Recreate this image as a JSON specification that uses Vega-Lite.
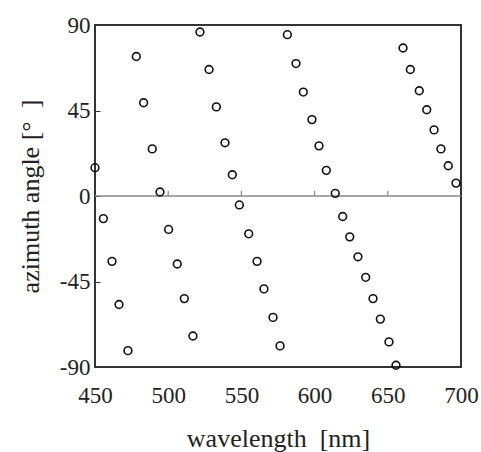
{
  "$schema": "https://vega.github.io/schema/vega-lite/v6.json",
  "width": 366,
  "height": 342,
  "autosize": {"type": "none"},
  "padding": {"left": 95, "top": 25, "right": 20, "bottom": 85},
  "background": "white",
  "config": {
    "view": {"stroke": "#333333", "strokeWidth": 2},
    "font": "Liberation Serif",
    "axis": {"labelFont": "Liberation Serif", "titleFont": "Liberation Serif", "labelFontSize": 23, "titleFontSize": 26, "titleFontWeight": "normal", "labelColor": "#222222", "titleColor": "#222222", "grid": false, "labelFlush": false, "labelOverlap": false}
  },
  "datasets": {
    "pts": [
      {"wl": 450.0, "az": 14.9},
      {"wl": 455.7, "az": -11.9},
      {"wl": 461.6, "az": -34.4},
      {"wl": 466.4, "az": -57.1},
      {"wl": 472.5, "az": -81.4},
      {"wl": 478.2, "az": 73.4},
      {"wl": 483.2, "az": 49.1},
      {"wl": 489.1, "az": 24.8},
      {"wl": 494.4, "az": 2.1},
      {"wl": 500.3, "az": -17.6},
      {"wl": 506.2, "az": -35.8},
      {"wl": 511.0, "az": -54.0},
      {"wl": 516.9, "az": -73.7},
      {"wl": 521.7, "az": 86.3},
      {"wl": 527.9, "az": 66.6},
      {"wl": 532.9, "az": 46.9},
      {"wl": 538.8, "az": 28.0},
      {"wl": 543.8, "az": 11.2},
      {"wl": 548.6, "az": -4.7},
      {"wl": 555.0, "az": -19.9},
      {"wl": 560.7, "az": -34.4},
      {"wl": 565.4, "az": -48.9},
      {"wl": 571.6, "az": -63.9},
      {"wl": 576.4, "az": -78.9},
      {"wl": 581.4, "az": 84.9},
      {"wl": 587.3, "az": 69.7},
      {"wl": 592.3, "az": 54.7},
      {"wl": 598.2, "az": 40.2},
      {"wl": 603.0, "az": 26.4},
      {"wl": 608.0, "az": 13.5},
      {"wl": 614.1, "az": 1.4},
      {"wl": 619.2, "az": -10.8},
      {"wl": 624.0, "az": -21.5},
      {"wl": 629.6, "az": -32.0},
      {"wl": 634.9, "az": -42.8},
      {"wl": 639.9, "az": -54.0},
      {"wl": 644.9, "az": -64.8},
      {"wl": 650.8, "az": -76.8},
      {"wl": 655.6, "az": -89.1},
      {"wl": 660.4, "az": 77.9},
      {"wl": 665.4, "az": 66.6},
      {"wl": 671.5, "az": 55.4},
      {"wl": 676.6, "az": 45.4},
      {"wl": 681.6, "az": 34.8},
      {"wl": 686.3, "az": 24.8},
      {"wl": 691.3, "az": 15.9},
      {"wl": 696.6, "az": 6.8}
    ],
    "xticks": [
      {"wl": 500, "y0": 0, "y1": 2.6},
      {"wl": 550, "y0": 0, "y1": 2.6},
      {"wl": 600, "y0": 0, "y1": 2.6},
      {"wl": 650, "y0": 0, "y1": 2.6}
    ],
    "zero": [{"z": 0}]
  },
  "layer": [
    {
      "data": {"name": "zero"},
      "mark": {"type": "rule", "color": "#888888", "strokeWidth": 1.5},
      "encoding": {"y": {"field": "z", "type": "quantitative", "scale": {"domain": [-90, 90]}}}
    },
    {
      "data": {"name": "xticks"},
      "mark": {"type": "rule", "color": "#888888", "strokeWidth": 1.2},
      "encoding": {
        "x": {"field": "wl", "type": "quantitative"},
        "y": {"field": "y0", "type": "quantitative"},
        "y2": {"field": "y1"}
      }
    },
    {
      "data": {"name": "pts"},
      "mark": {"type": "point", "shape": "circle", "filled": false, "stroke": "#111111", "strokeWidth": 1.6, "size": 60, "opacity": 1},
      "encoding": {
        "x": {
          "field": "wl", "type": "quantitative",
          "scale": {"domain": [450, 700], "nice": false, "zero": false},
          "axis": {"title": "wavelength\u00a0 [nm]", "values": [450, 500, 550, 600, 650, 700], "ticks": false, "domain": false, "labelPadding": 17, "titlePadding": 18}
        },
        "y": {
          "field": "az", "type": "quantitative",
          "scale": {"domain": [-90, 90], "nice": false, "zero": false},
          "axis": {"title": "azimuth angle [°\u00a0\u00a0]", "values": [-90, -45, 0, 45, 90], "labelExpr": "'' + datum.value", "tickSize": -5, "tickColor": "#333333", "domain": false, "labelPadding": 10, "titlePadding": 16}
        }
      }
    }
  ]
}
